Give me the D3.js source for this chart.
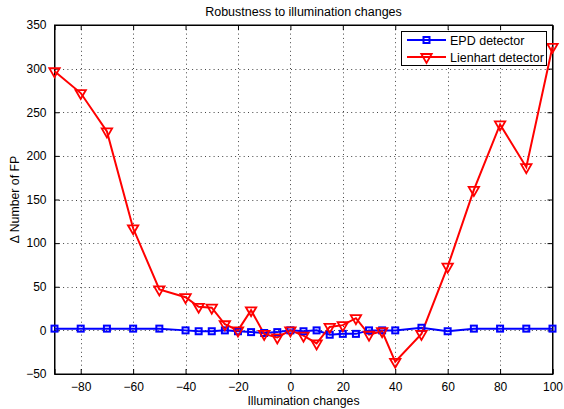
<!DOCTYPE html>
<html>
<head>
<meta charset="utf-8">
<script src="https://cdn.jsdelivr.net/npm/d3@7"></script>
<style>
  body { margin: 0; background: #fff; }
  text { font-family: Helvetica, Arial, "Liberation Sans", sans-serif; fill: #000; }
</style>
</head>
<body>
<div id="grafiekContainer"></div>
<script>

// data
var verlichting = [-90, -80, -70, -60, -50, -40, -35, -30, -25, -20, -15, -10, -5, 0,
                   5, 10, 15, 20, 25, 30, 35, 40, 50, 60, 70, 80, 90, 100];
var epdWaarden = [2, 2, 2, 2, 2, 0, -1, -1, 0, -1, -2, -3, -2, 0,
                  -1, 0, -5, -4, -4, 0, 0, 0, 3, -1, 2, 2, 2, 2];
var lienhartWaarden = [297, 272, 228, 117, 47, 38, 27, 26, 7, 0, 23, -4, -8, 0,
                       -6, -15, 4, 6, 14, -5, -1, -36, -4, 73, 161, 236, 187, 325];
var xTicks = [-80, -60, -40, -20, 0, 20, 40, 60, 80, 100];
var yTicks = [-50, 0, 50, 100, 150, 200, 250, 300, 350];
var reeksNamen = ["EPD detector", "Lienhart detector"];

var breedte = 564;
var hoogte = 409;

// marges vast leggen
var marge = {boven: 25, beneden: 35, rechts: 11.5, links: 54.5};
var grafiekHoogte = hoogte - marge.boven - marge.beneden;
var grafiekBreedte = breedte - marge.rechts - marge.links;

// maak een SVG element
var svg = d3.select("#grafiekContainer")
            .append("svg")
            .attr("height", hoogte)
            .attr("width", breedte);

// schaalfuncties
var x = d3.scaleLinear()
          .domain([-90, 100])
          .range([marge.links, marge.links + grafiekBreedte]);

var y = d3.scaleLinear()
          .domain([-50, 350])
          .range([marge.boven + grafiekHoogte, marge.boven]);

// achtergrond van het plotvlak
svg.append("rect")
   .attr("x", marge.links)
   .attr("y", marge.boven)
   .attr("width", grafiekBreedte)
   .attr("height", grafiekHoogte)
   .attr("fill", "#fff");

// gestippelde rasterlijnen
svg.append("g")
   .selectAll("line")
   .data(xTicks.filter(function(d) { return d < 100; }))
   .enter()
   .append("line")
   .attr("x1", function(d) { return Math.round(x(d)) + 0.5; })
   .attr("x2", function(d) { return Math.round(x(d)) + 0.5; })
   .attr("y1", marge.boven)
   .attr("y2", marge.boven + grafiekHoogte)
   .attr("stroke", "#444")
   .attr("stroke-dasharray", "1,3.3");

svg.append("g")
   .selectAll("line")
   .data(yTicks.filter(function(d) { return d > -50 && d < 350; }))
   .enter()
   .append("line")
   .attr("y1", function(d) { return Math.round(y(d)) + 0.5; })
   .attr("y2", function(d) { return Math.round(y(d)) + 0.5; })
   .attr("x1", marge.links)
   .attr("x2", marge.links + grafiekBreedte)
   .attr("stroke", "#444")
   .attr("stroke-dasharray", "1,3.3");

// assen met naar binnen gerichte streepjes
var minTeken = function(d) { return d < 0 ? "\u2212" + Math.abs(d) : d; };

var asX = d3.axisBottom(x).tickValues(xTicks).tickSize(-5).tickPadding(8).tickFormat(minTeken);
svg.append("g")
   .attr("class", "xAs")
   .attr("transform", "translate(0," + (marge.boven + grafiekHoogte) + ")")
   .call(asX);

var asXBoven = d3.axisTop(x).tickValues(xTicks).tickSize(-5).tickFormat("");
svg.append("g")
   .attr("transform", "translate(0," + marge.boven + ")")
   .call(asXBoven);

var asY = d3.axisLeft(y).tickValues(yTicks).tickSize(-5).tickPadding(8).tickFormat(minTeken);
svg.append("g")
   .attr("class", "yAs")
   .attr("transform", "translate(" + marge.links + ",0)")
   .call(asY);

var asYRechts = d3.axisRight(y).tickValues(yTicks).tickSize(-5).tickFormat("");
svg.append("g")
   .attr("transform", "translate(" + (marge.links + grafiekBreedte) + ",0)")
   .call(asYRechts);

svg.selectAll(".domain").attr("stroke", "#000");
svg.selectAll(".tick line").attr("stroke", "#000");
svg.selectAll(".tick text")
   .attr("font-size", "12px")
   .attr("font-family", "Helvetica, Arial, 'Liberation Sans', sans-serif");

// kader om het plotvlak
svg.append("rect")
   .attr("x", marge.links)
   .attr("y", marge.boven)
   .attr("width", grafiekBreedte)
   .attr("height", grafiekHoogte)
   .attr("fill", "none")
   .attr("stroke", "#000");

// titels
svg.append("text")
   .attr("x", marge.links + grafiekBreedte / 2)
   .attr("y", 16)
   .attr("text-anchor", "middle")
   .attr("font-size", "12.5px")
   .text("Robustness to illumination changes");

svg.append("text")
   .attr("x", marge.links + grafiekBreedte / 2)
   .attr("y", 405)
   .attr("text-anchor", "middle")
   .attr("font-size", "12.3px")
   .text("Illumination changes");

svg.append("text")
   .attr("transform", "rotate(-90)")
   .attr("x", -(marge.boven + grafiekHoogte / 2))
   .attr("y", 19)
   .attr("text-anchor", "middle")
   .attr("font-size", "12.3px")
   .text("\u0394 Number of FP");

// lijnen
var lijn = d3.line()
             .x(function(d) { return x(d[0]); })
             .y(function(d) { return y(d[1]); });

var epdData = verlichting.map(function(v, i) { return [v, epdWaarden[i]]; });
var lienhartData = verlichting.map(function(v, i) { return [v, lienhartWaarden[i]]; });

svg.append("path")
   .datum(epdData)
   .attr("d", lijn)
   .attr("fill", "none")
   .attr("stroke", "#0000ff")
   .attr("stroke-width", 2);

svg.append("path")
   .datum(lienhartData)
   .attr("d", lijn)
   .attr("fill", "none")
   .attr("stroke", "#ff0000")
   .attr("stroke-width", 2);

// markers
var driehoek = "M-5.2,-3L5.2,-3L0,6Z";

svg.append("g")
   .selectAll("rect")
   .data(epdData)
   .enter()
   .append("rect")
   .attr("x", function(d) { return x(d[0]) - 3; })
   .attr("y", function(d) { return y(d[1]) - 3; })
   .attr("width", 6)
   .attr("height", 6)
   .attr("fill", "none")
   .attr("stroke", "#0000ff")
   .attr("stroke-width", 2);

svg.append("g")
   .selectAll("path")
   .data(lienhartData)
   .enter()
   .append("path")
   .attr("d", driehoek)
   .attr("transform", function(d) {
     return "translate(" + x(d[0]) + "," + y(d[1]) + ")"; })
   .attr("fill", "none")
   .attr("stroke", "#ff0000")
   .attr("stroke-width", 1.8);

// legenda
var legenda = svg.append("g");

legenda.append("rect")
       .attr("x", 401.5)
       .attr("y", 31.5)
       .attr("width", 145)
       .attr("height", 34)
       .attr("fill", "#fff")
       .attr("stroke", "#000");

reeksNamen.forEach(function(naam, i) {
  var ly = 40 + i * 17;
  var kleur = i == 0 ? "#0000ff" : "#ff0000";
  legenda.append("line")
         .attr("x1", 407)
         .attr("x2", 446)
         .attr("y1", ly)
         .attr("y2", ly)
         .attr("stroke", kleur)
         .attr("stroke-width", 2);
  if (i == 0) {
    legenda.append("rect")
           .attr("x", 426.5 - 3)
           .attr("y", ly - 3)
           .attr("width", 6)
           .attr("height", 6)
           .attr("fill", "none")
           .attr("stroke", kleur)
           .attr("stroke-width", 2);
  } else {
    legenda.append("path")
           .attr("d", driehoek)
           .attr("transform", "translate(426.5," + ly + ")")
           .attr("fill", "none")
           .attr("stroke", kleur)
           .attr("stroke-width", 1.8);
  }
  legenda.append("text")
         .attr("x", 450)
         .attr("y", ly + 4.5)
         .attr("font-size", "12.5px")
         .text(naam);
});

</script>
</body>
</html>
